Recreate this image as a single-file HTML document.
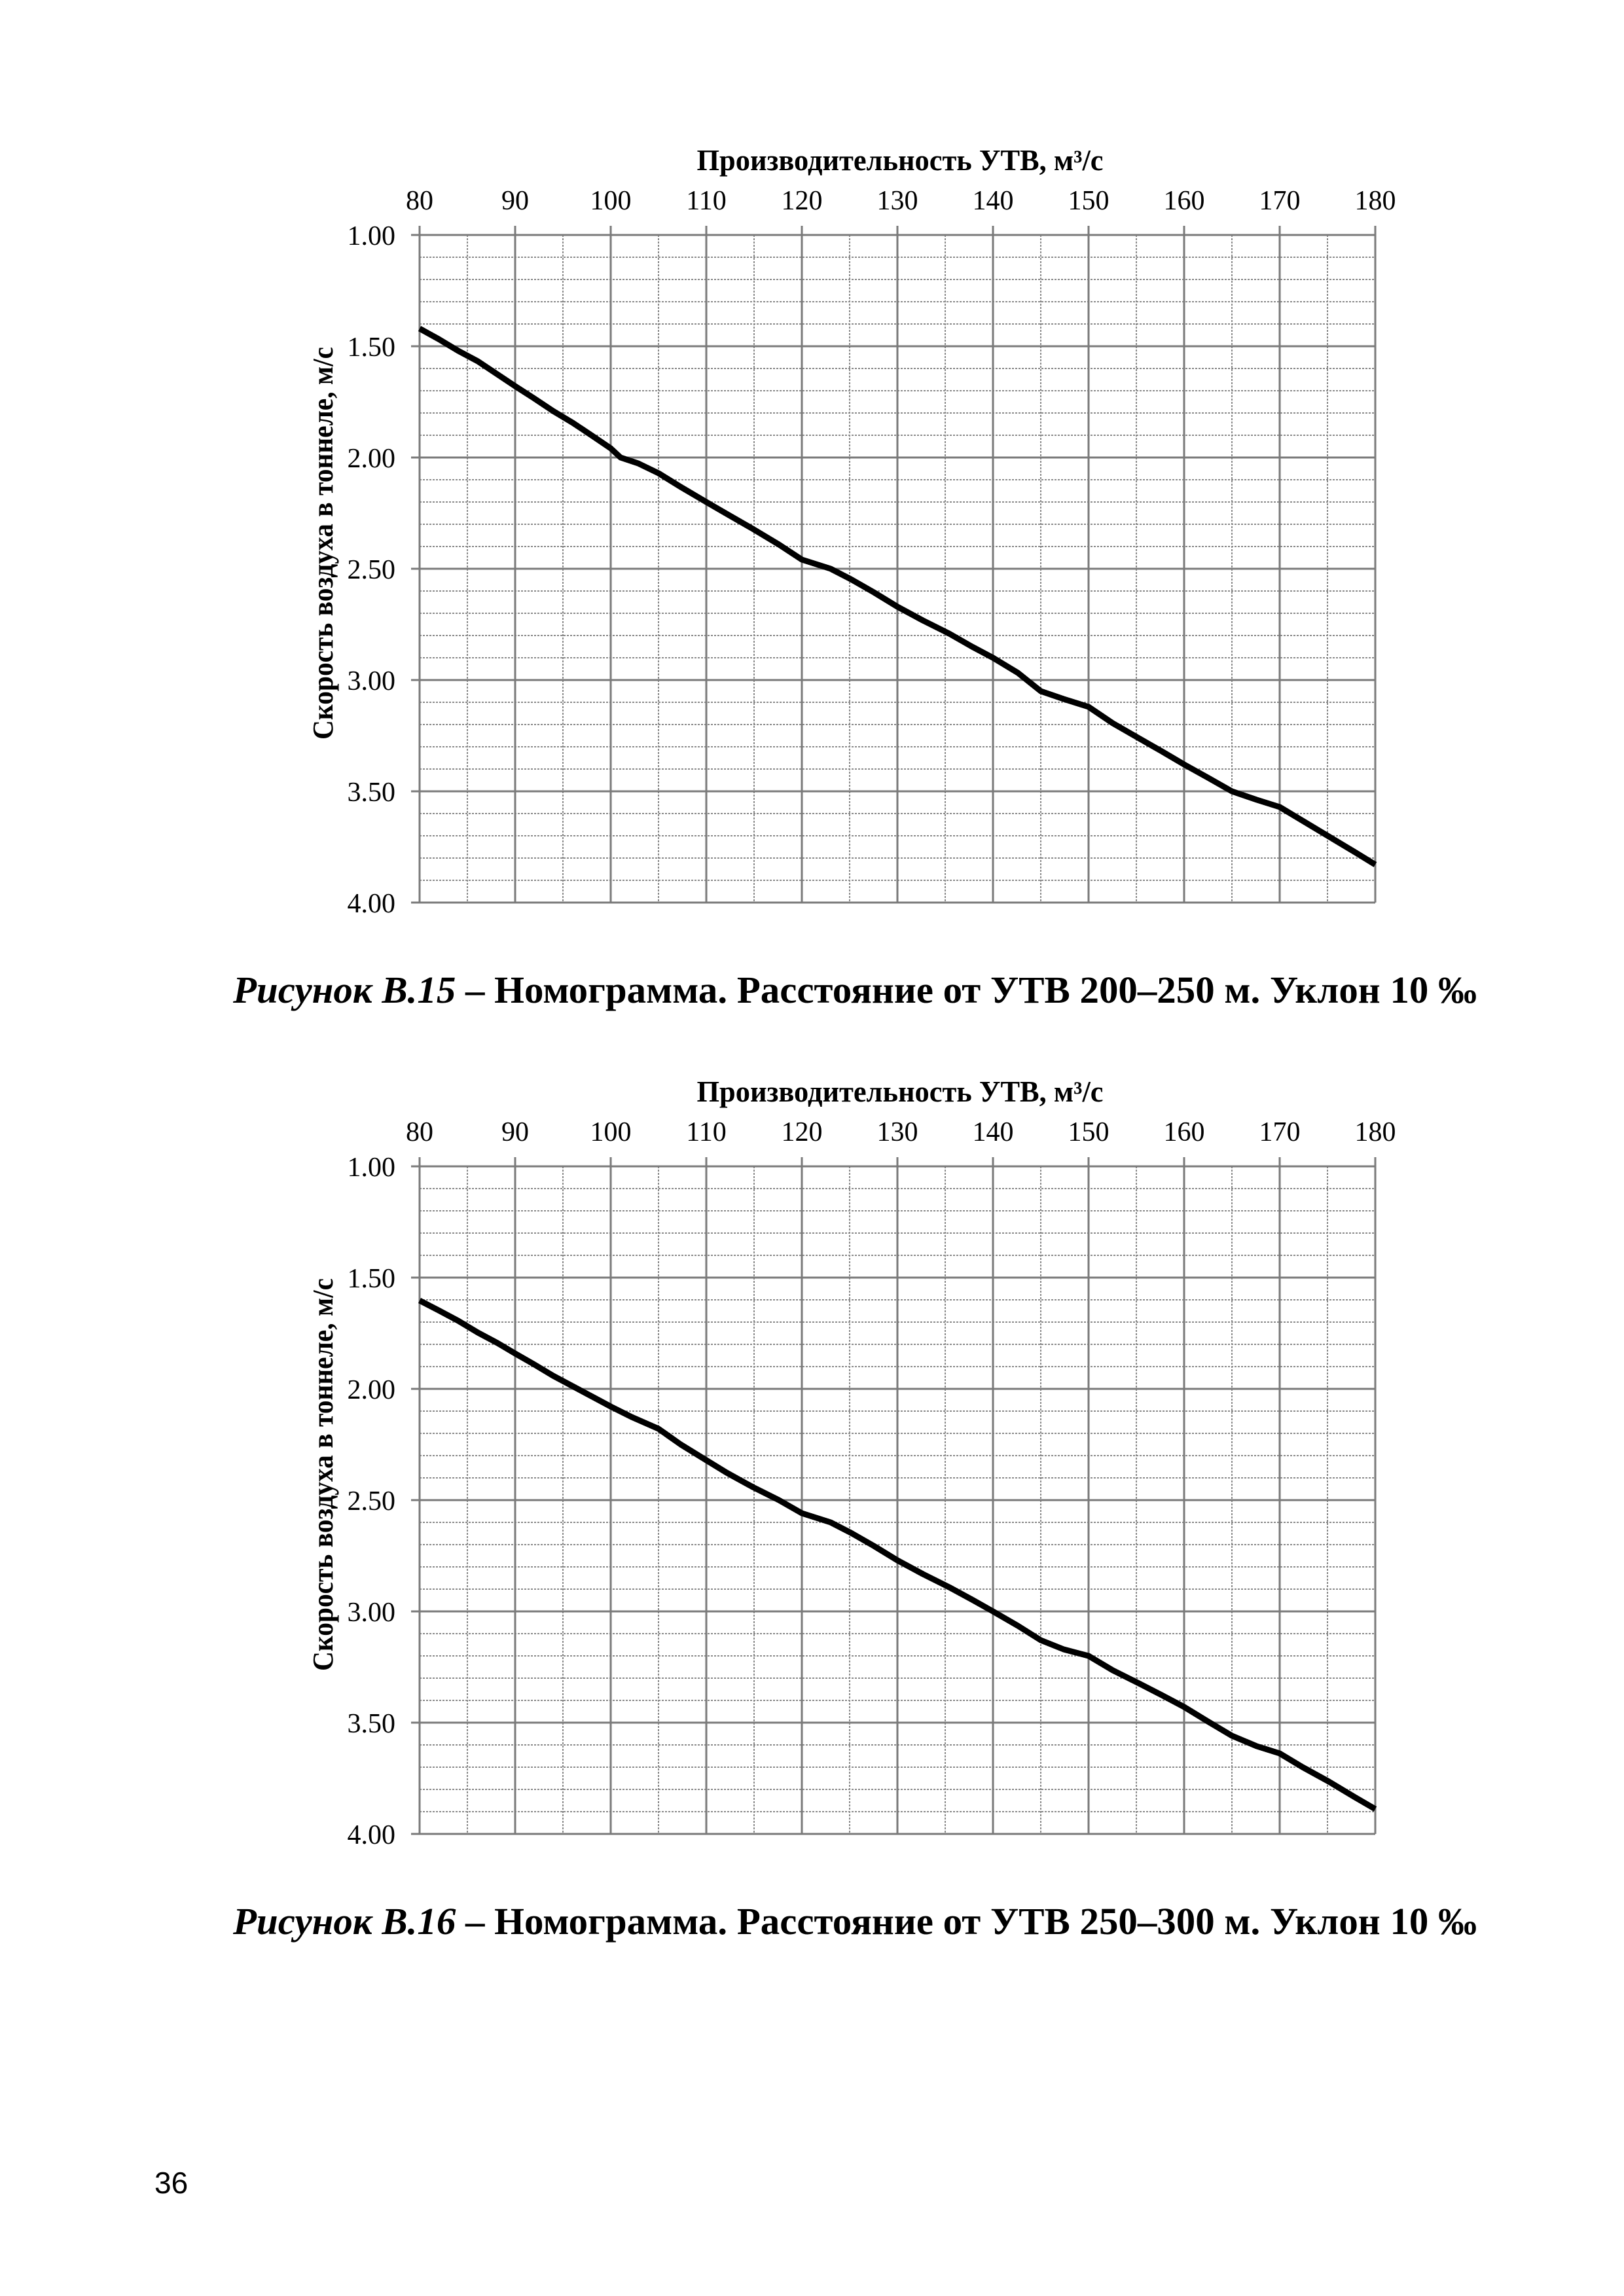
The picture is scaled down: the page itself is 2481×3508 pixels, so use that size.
<!DOCTYPE html>
<html><head><meta charset="utf-8"><style>
html,body{margin:0;padding:0;background:#fff}
svg{display:block}
text{font-family:"Liberation Serif",serif;fill:#000}
</style></head><body>
<svg width="2481" height="3508" viewBox="0 0 2481 3508" xmlns="http://www.w3.org/2000/svg">
<defs>
<g id="grid">
<g stroke="#8a8a8a" stroke-width="2" stroke-dasharray="3,2">
<line x1="714" y1="359" x2="714" y2="1379"/><line x1="860" y1="359" x2="860" y2="1379"/><line x1="1006" y1="359" x2="1006" y2="1379"/><line x1="1152" y1="359" x2="1152" y2="1379"/><line x1="1298" y1="359" x2="1298" y2="1379"/><line x1="1444" y1="359" x2="1444" y2="1379"/><line x1="1590" y1="359" x2="1590" y2="1379"/><line x1="1736" y1="359" x2="1736" y2="1379"/><line x1="1882" y1="359" x2="1882" y2="1379"/><line x1="2028" y1="359" x2="2028" y2="1379"/>
<line x1="641" y1="393" x2="2101" y2="393"/><line x1="641" y1="427" x2="2101" y2="427"/><line x1="641" y1="461" x2="2101" y2="461"/><line x1="641" y1="495" x2="2101" y2="495"/>
<line x1="641" y1="563" x2="2101" y2="563"/><line x1="641" y1="597" x2="2101" y2="597"/><line x1="641" y1="631" x2="2101" y2="631"/><line x1="641" y1="665" x2="2101" y2="665"/>
<line x1="641" y1="733" x2="2101" y2="733"/><line x1="641" y1="767" x2="2101" y2="767"/><line x1="641" y1="801" x2="2101" y2="801"/><line x1="641" y1="835" x2="2101" y2="835"/>
<line x1="641" y1="903" x2="2101" y2="903"/><line x1="641" y1="937" x2="2101" y2="937"/><line x1="641" y1="971" x2="2101" y2="971"/><line x1="641" y1="1005" x2="2101" y2="1005"/>
<line x1="641" y1="1073" x2="2101" y2="1073"/><line x1="641" y1="1107" x2="2101" y2="1107"/><line x1="641" y1="1141" x2="2101" y2="1141"/><line x1="641" y1="1175" x2="2101" y2="1175"/>
<line x1="641" y1="1243" x2="2101" y2="1243"/><line x1="641" y1="1277" x2="2101" y2="1277"/><line x1="641" y1="1311" x2="2101" y2="1311"/><line x1="641" y1="1345" x2="2101" y2="1345"/>
</g>
<g stroke="#7a7a7a" stroke-width="3">
<line x1="641" y1="345" x2="641" y2="1379"/><line x1="787" y1="345" x2="787" y2="1379"/><line x1="933" y1="345" x2="933" y2="1379"/><line x1="1079" y1="345" x2="1079" y2="1379"/><line x1="1225" y1="345" x2="1225" y2="1379"/><line x1="1371" y1="345" x2="1371" y2="1379"/><line x1="1517" y1="345" x2="1517" y2="1379"/><line x1="1663" y1="345" x2="1663" y2="1379"/><line x1="1809" y1="345" x2="1809" y2="1379"/><line x1="1955" y1="345" x2="1955" y2="1379"/><line x1="2101" y1="345" x2="2101" y2="1379"/>
<line x1="628" y1="359" x2="2101" y2="359"/><line x1="628" y1="529" x2="2101" y2="529"/><line x1="628" y1="699" x2="2101" y2="699"/><line x1="628" y1="869" x2="2101" y2="869"/><line x1="628" y1="1039" x2="2101" y2="1039"/><line x1="628" y1="1209" x2="2101" y2="1209"/><line x1="628" y1="1379" x2="2101" y2="1379"/>
</g>
</g>
</defs>

<use href="#grid"/>
<use href="#grid" transform="translate(0,1423)"/>

<text x="1375" y="260" font-size="45" font-weight="bold" text-anchor="middle" textLength="621" lengthAdjust="spacingAndGlyphs">Производительность УТВ, м³/с</text>
<g font-size="42" text-anchor="middle">
<text x="641" y="320">80</text><text x="787" y="320">90</text><text x="933" y="320">100</text><text x="1079" y="320">110</text><text x="1225" y="320">120</text><text x="1371" y="320">130</text><text x="1517" y="320">140</text><text x="1663" y="320">150</text><text x="1809" y="320">160</text><text x="1955" y="320">170</text><text x="2101" y="320">180</text>
</g>
<g font-size="42" text-anchor="end">
<text x="604" y="374">1.00</text><text x="604" y="544">1.50</text><text x="604" y="714">2.00</text><text x="604" y="884">2.50</text><text x="604" y="1054">3.00</text><text x="604" y="1224">3.50</text><text x="604" y="1394">4.00</text>
</g>
<text transform="translate(508,830) rotate(-90)" font-size="44" font-weight="bold" text-anchor="middle" textLength="600" lengthAdjust="spacingAndGlyphs">Скорость воздуха в тоннеле, м/с</text>
<polyline fill="none" stroke="#000" stroke-width="9" stroke-linejoin="round" points="641,502 670,518 700,536 730,552 760,572 787,590 815,608 845,628 875,646 905,666 933,685 948,699 975,708 1006,723 1040,744 1079,767 1110,785 1150,808 1190,832 1225,855 1269,869 1300,885 1335,905 1371,927 1410,948 1450,968 1485,988 1517,1005 1555,1028 1590,1056 1625,1068 1663,1080 1700,1105 1740,1128 1775,1148 1809,1168 1845,1188 1882,1209 1920,1222 1955,1233 1990,1254 2030,1278 2070,1302 2101,1321"/>
<text x="1306" y="1532" font-size="58" font-weight="bold" text-anchor="middle" textLength="1900" lengthAdjust="spacingAndGlyphs"><tspan font-style="italic">Рисунок В.15</tspan> – Номограмма. Расстояние от УТВ 200–250 м. Уклон 10 ‰</text>

<g transform="translate(0,1423)">
<text x="1375" y="260" font-size="45" font-weight="bold" text-anchor="middle" textLength="621" lengthAdjust="spacingAndGlyphs">Производительность УТВ, м³/с</text>
<g font-size="42" text-anchor="middle">
<text x="641" y="320">80</text><text x="787" y="320">90</text><text x="933" y="320">100</text><text x="1079" y="320">110</text><text x="1225" y="320">120</text><text x="1371" y="320">130</text><text x="1517" y="320">140</text><text x="1663" y="320">150</text><text x="1809" y="320">160</text><text x="1955" y="320">170</text><text x="2101" y="320">180</text>
</g>
<g font-size="42" text-anchor="end">
<text x="604" y="374">1.00</text><text x="604" y="544">1.50</text><text x="604" y="714">2.00</text><text x="604" y="884">2.50</text><text x="604" y="1054">3.00</text><text x="604" y="1224">3.50</text><text x="604" y="1394">4.00</text>
</g>
<text transform="translate(508,830) rotate(-90)" font-size="44" font-weight="bold" text-anchor="middle" textLength="600" lengthAdjust="spacingAndGlyphs">Скорость воздуха в тоннеле, м/с</text>
<text x="1306" y="1532" font-size="58" font-weight="bold" text-anchor="middle" textLength="1900" lengthAdjust="spacingAndGlyphs"><tspan font-style="italic">Рисунок В.16</tspan> – Номограмма. Расстояние от УТВ 250–300 м. Уклон 10 ‰</text>
</g>
<polyline fill="none" stroke="#000" stroke-width="9" stroke-linejoin="round" points="641,1987 670,2002 700,2018 730,2036 760,2052 787,2068 815,2084 845,2102 875,2118 905,2134 933,2149 965,2165 1006,2183 1040,2207 1079,2231 1110,2250 1150,2272 1190,2292 1225,2312 1269,2326 1300,2342 1335,2362 1371,2384 1410,2405 1450,2425 1485,2444 1517,2462 1555,2484 1590,2506 1625,2520 1663,2530 1700,2552 1740,2572 1775,2590 1809,2608 1845,2630 1882,2652 1920,2668 1955,2679 1990,2700 2030,2722 2070,2746 2101,2764"/>

<text x="236" y="3351" font-size="46" style="font-family:'Liberation Sans',sans-serif">36</text>
</svg>
</body></html>
